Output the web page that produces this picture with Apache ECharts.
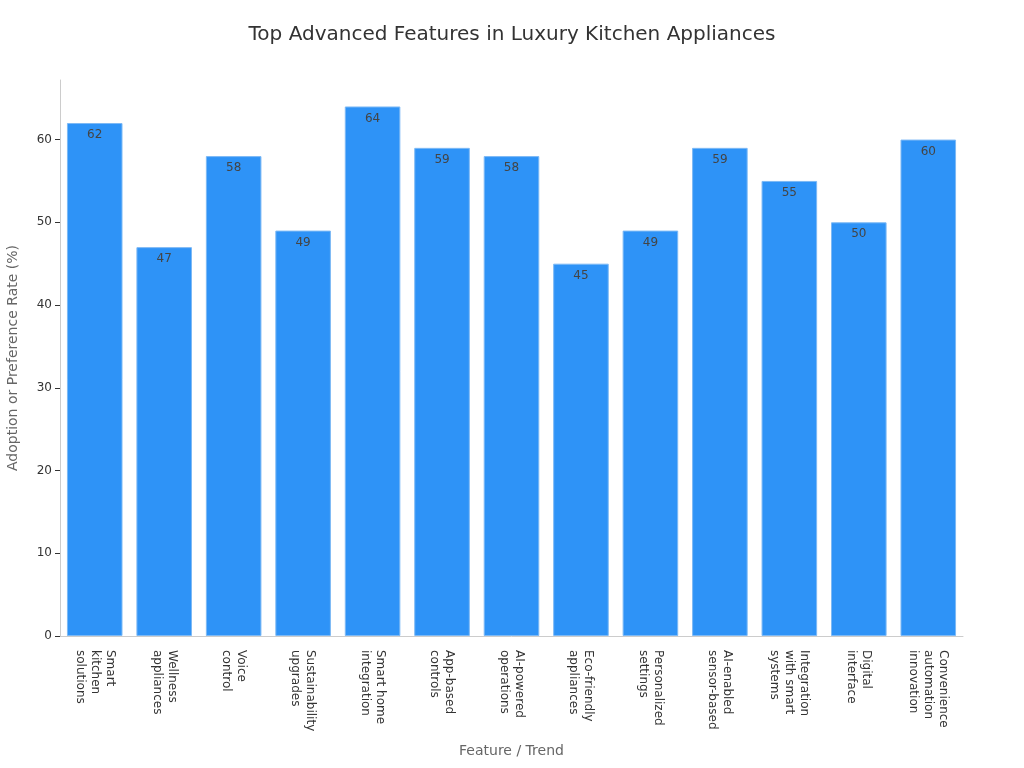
<!DOCTYPE html>
<html><head><meta charset="utf-8">
<script src="https://cdn.jsdelivr.net/npm/echarts@6/dist/echarts.min.js"></script>
<style>html,body{margin:0;padding:0;background:#fff}#c{width:1024px;height:768px}</style>
</head><body><div id="c"></div>
<script>
const categories = ["Smart\nkitchen\nsolutions","Wellness\nappliances","Voice\ncontrol","Sustainability\nupgrades","Smart home\nintegration","App-based\ncontrols","AI-powered\noperations","Eco-friendly\nappliances","Personalized\nsettings","AI-enabled\nsensor-based","Integration\nwith smart\nsystems","Digital\ninterface","Convenience\nautomation\ninnovation"];
const values = [62,47,58,49,64,59,58,45,49,59,55,50,60];
const yTicks = [0,10,20,30,40,50,60];
const chart = echarts.init(document.getElementById('c'));
const F = 'DejaVu Sans';
chart.setOption({
  textStyle:{fontFamily:F},
  title:{text:'Top Advanced Features in Luxury Kitchen Appliances',left:'center',top:20,textStyle:{fontFamily:F,fontSize:20,fontWeight:'normal',color:'#333'}},
  grid:{left:60,right:61,top:80,bottom:132,containLabel:false,outerBoundsMode:'none'},
  xAxis:{type:'category',data:categories,name:'Feature / Trend',nameLocation:'middle',nameGap:108,
    nameTextStyle:{fontFamily:F,fontSize:14,color:'#666'},
    axisLine:{lineStyle:{color:'#ccc'}},axisTick:{alignWithLabel:true,length:5,lineStyle:{color:'#333'}},
    axisLabel:{rotate:-90,interval:0,fontFamily:F,fontSize:12,color:'#333',lineHeight:15,margin:14}},
  yAxis:{type:'value',min:0,max:67.2,interval:10,name:'Adoption or Preference Rate (%)',nameLocation:'middle',nameGap:40,
    nameTextStyle:{fontFamily:F,fontSize:14,color:'#666'},
    axisLine:{show:true,lineStyle:{color:'#ccc'}},axisTick:{show:true,lineStyle:{color:'#333'}},
    splitLine:{show:false},
    axisLabel:{fontFamily:F,fontSize:12,color:'#333',margin:8,showMaxLabel:false,formatter:v=>yTicks.includes(v)?String(v):''}},
  series:[{type:'bar',data:values,barCategoryGap:'20%',
    itemStyle:{color:'#2E93F7',borderColor:'#7DB9F5',borderWidth:1},
    label:{show:true,position:'insideTop',offset:[0,1],fontFamily:F,fontSize:12,color:'#444'}}]
});
</script></body></html>
